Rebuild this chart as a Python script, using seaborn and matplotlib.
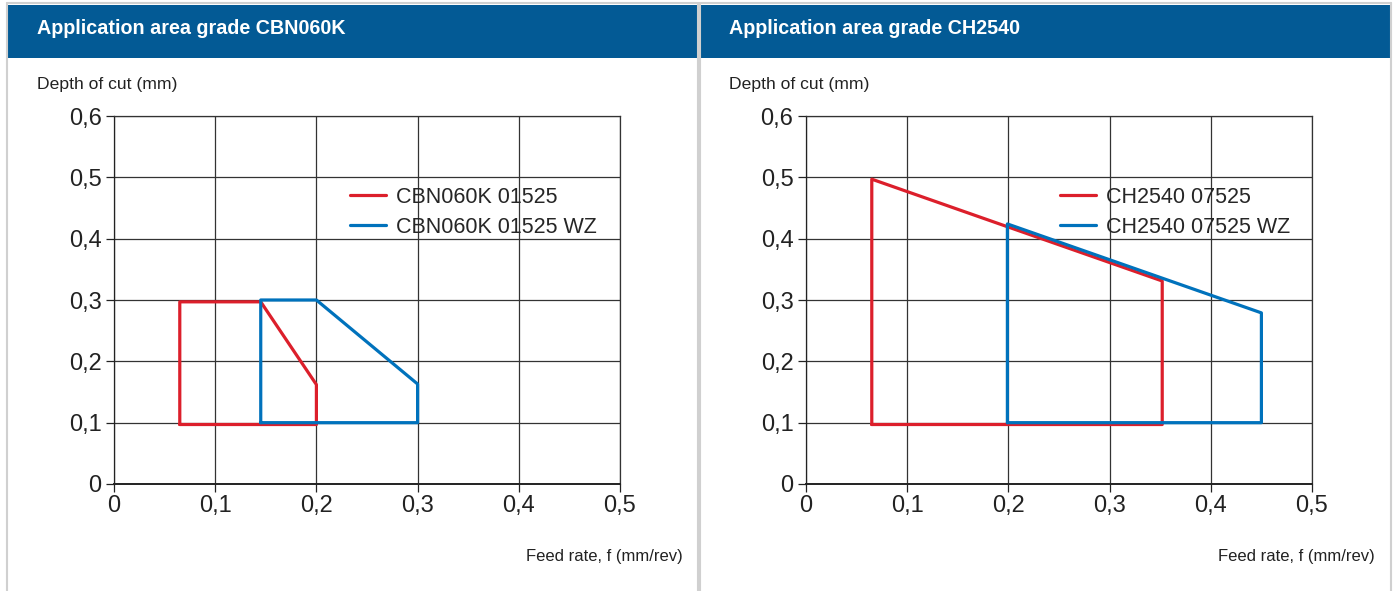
import numpy as np
import pandas as pd
import seaborn as sns
import matplotlib
matplotlib.use("Agg")
import matplotlib.pyplot as plt
from matplotlib.patches import Rectangle
from matplotlib.lines import Line2D

sns.set_theme(style="white")
plt.rcParams['font.family'] = ['Liberation Sans', 'DejaVu Sans']

# ---- data ----
titles = ["Application area grade CBN060K", "Application area grade CH2540"]
series_left = ["CBN060K 01525", "CBN060K 01525 WZ"]
series_right = ["CH2540 07525", "CH2540 07525 WZ"]

left_red_x = [0.065, 0.065, 0.145, 0.200, 0.200, 0.065]
left_red_y = [0.097, 0.297, 0.297, 0.162, 0.097, 0.097]
left_blue_x = [0.145, 0.145, 0.200, 0.300, 0.300, 0.145]
left_blue_y = [0.100, 0.300, 0.300, 0.163, 0.100, 0.100]

right_red_x = [0.065, 0.065, 0.352, 0.352, 0.065]
right_red_y = [0.097, 0.497, 0.331, 0.097, 0.097]
right_blue_x = [0.199, 0.199, 0.450, 0.450, 0.199]
right_blue_y = [0.100, 0.424, 0.279, 0.100, 0.100]

x_ticks = [0, 0.1, 0.2, 0.3, 0.4, 0.5]
x_tick_labels = ["0", "0,1", "0,2", "0,3", "0,4", "0,5"]
y_ticks = [0, 0.1, 0.2, 0.3, 0.4, 0.5, 0.6]
y_tick_labels = ["0", "0,1", "0,2", "0,3", "0,4", "0,5", "0,6"]
y_label = "Depth of cut (mm)"
x_label = "Feed rate, f (mm/rev)"

RED = "#dc1f2b"
BLUE = "#0072bc"
HEADER = "#035a95"
BORDER = "#d0d0d0"

W, H = 1395, 591
fig = plt.figure(figsize=(W / 100, H / 100), dpi=100)

def fx(px):
    return px / W

def fy(py):
    return 1 - py / H

# panel frames and headers
for x0, x1 in [(8, 698), (700, 1390)]:
    fig.patches.append(Rectangle((fx(x0), fy(58)), fx(x1 - x0), 53 / H,
                                 transform=fig.transFigure, facecolor=HEADER,
                                 edgecolor="none", zorder=0))
for xp in [7, 698, 700, 1391]:
    fig.add_artist(Line2D([fx(xp), fx(xp)], [0, fy(3)], transform=fig.transFigure,
                          color=BORDER, lw=1.5))
fig.add_artist(Line2D([fx(7), fx(1391)], [fy(3), fy(3)], transform=fig.transFigure,
                      color=BORDER, lw=1.5))

panels = [
    dict(title=titles[0], names=series_left,
         xs=[left_red_x, left_blue_x], ys=[left_red_y, left_blue_y],
         ax_left=114, title_x=37, ylab_x=37, xlab_x=683, leg_x=350),
    dict(title=titles[1], names=series_right,
         xs=[right_red_x, right_blue_x], ys=[right_red_y, right_blue_y],
         ax_left=806, title_x=729, ylab_x=729, xlab_x=1375, leg_x=1060),
]

for p in panels:
    ax = fig.add_axes([fx(p["ax_left"]), fy(484), 506 / W, 368 / H])
    rows = []
    for name, xs, ys in zip(p["names"], p["xs"], p["ys"]):
        for i, (xv, yv) in enumerate(zip(xs, ys)):
            rows.append(dict(series=name, x=xv, y=yv, order=i))
    df = pd.DataFrame(rows)
    sns.lineplot(data=df, x="x", y="y", hue="series", sort=False, estimator=None,
                 palette=[RED, BLUE], linewidth=2.3, ax=ax, zorder=3)
    ax.set_xlim(0, 0.5)
    ax.set_ylim(0, 0.6)
    ax.set_xticks(x_ticks)
    ax.set_xticklabels(x_tick_labels)
    ax.set_yticks(y_ticks)
    ax.set_yticklabels(y_tick_labels)
    ax.set_xlabel("")
    ax.set_ylabel("")
    ax.grid(True, color="#333333", linewidth=0.9)
    ax.set_axisbelow(True)
    for s in ax.spines.values():
        s.set_color("#333333")
        s.set_linewidth(0.9)
    ax.spines["left"].set_color("#222222")
    ax.spines["bottom"].set_color("#222222")
    ax.spines["bottom"].set_linewidth(1.4)
    ax.tick_params(axis="both", which="both", direction="out", length=6, width=0.9,
                   colors="#222222", labelsize=17, left=True, bottom=True, pad=2)
    ax.tick_params(axis="y", pad=3)
    leg = ax.legend(loc="upper left",
                    bbox_to_anchor=((p["leg_x"] - p["ax_left"]) / 506, (484 - 187) / 368),
                    frameon=False, fontsize=15.5, handlelength=1.65, handletextpad=0.5,
                    labelspacing=0.4, borderpad=0, borderaxespad=0)
    for lh in leg.get_lines():
        lh.set_linewidth(2.3)
    fig.text(fx(p["title_x"]), fy(29), p["title"], color="white", fontsize=14.2,
             fontweight="bold", va="center", ha="left")
    fig.text(fx(p["ylab_x"]), fy(84), y_label, color="#222222", fontsize=12.6,
             va="center", ha="left")
    fig.text(fx(p["xlab_x"]), fy(557), x_label, color="#222222", fontsize=12,
             va="center", ha="right")

fig.savefig("out.png", dpi=100, facecolor="white")
